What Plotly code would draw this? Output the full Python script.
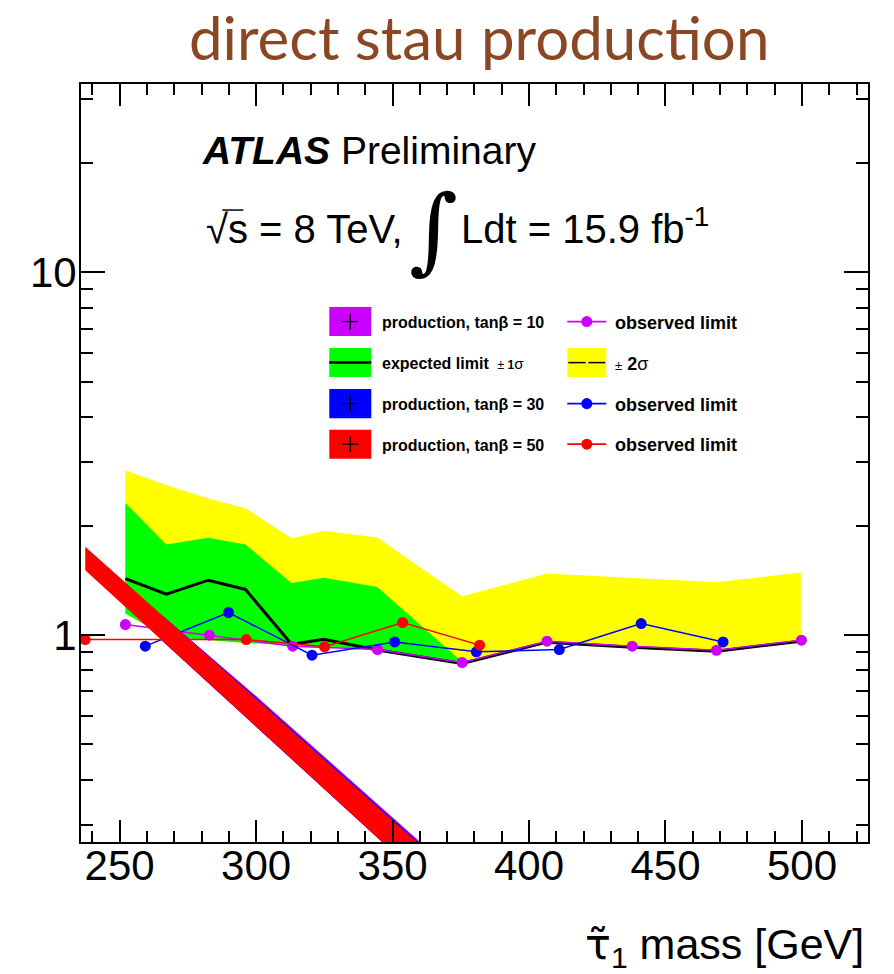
import plotly.graph_objects as go

# ---------------- data ----------------
band_mass = [252.1, 267.1, 282.5, 296.1, 313.0, 324.8, 344.4, 375.5, 406.6, 437.8, 468.8, 499.6]
yellow_hi = [2.85, 2.59, 2.38, 2.24, 1.85, 1.94, 1.86, 1.28, 1.48, 1.44, 1.40, 1.49]
yellow_lo = [1.148, 0.99, 0.97, 0.952, 0.939, 0.93, 0.913, 0.838, 0.955, 0.927, 0.903, 0.962]
green_mass = [252.1, 267.1, 282.5, 296.1, 313.0, 324.8, 344.4, 375.5]
green_hi = [2.316, 1.778, 1.855, 1.778, 1.393, 1.439, 1.359, 0.845]
green_lo = [1.148, 0.99, 0.97, 0.952, 0.939, 0.93, 0.913, 0.838]
expected = [1.433, 1.297, 1.418, 1.337, 0.944, 0.975, 0.910, 0.836, 0.957, 0.927, 0.903, 0.963]

obs10_mass = [252.1, 282.9, 313.4, 344.5, 375.5, 406.6, 437.8, 468.7, 499.8]
obs10 = [1.070, 1.000, 0.933, 0.913, 0.841, 0.963, 0.933, 0.909, 0.969]
obs30_mass = [259.4, 289.9, 320.5, 350.8, 380.7, 411.1, 441.1, 471.1]
obs30 = [0.933, 1.155, 0.881, 0.958, 0.900, 0.913, 1.077, 0.958]
obs50_mass = [237.4, 296.4, 325.1, 353.7, 381.9]
obs50 = [0.973, 0.973, 0.929, 1.084, 0.939]

# production cross-section bands (upper edge / lower edge)
tb50_hi_mass = [237.4, 300.0, 359.0, 385.0]
tb50_hi = [1.752, 0.668, 0.269, 0.180]
tb50_lo_mass = [237.4, 290.0, 346.2, 375.0]
tb50_lo = [1.511, 0.656, 0.269, 0.1706]
tb30_hi_mass = [265.0, 300.0, 359.0, 385.0]
tb30_hi = [1.145, 0.674, 0.2715, 0.1815]
tb30_lo_mass = [265.0, 290.0, 346.2, 375.0]
tb30_lo = [0.975, 0.656, 0.269, 0.1706]
tb10_hi_mass = [265.0, 300.0, 359.0, 385.0]
tb10_hi = [1.145, 0.680, 0.274, 0.183]
tb10_lo_mass = [265.0, 290.0, 346.2, 375.0]
tb10_lo = [0.975, 0.656, 0.269, 0.1706]

x_ticks = [250, 300, 350, 400, 450, 500]
y_ticks = [1, 10]
y_minor = [0.3, 0.4, 0.5, 0.6, 0.7, 0.8, 0.9, 2, 3, 4, 5, 6, 7, 8, 9, 20, 30]

legend_col1 = ["production, tan\u03b2 = 10", "expected limit", "production, tan\u03b2 = 30", "production, tan\u03b2 = 50"]
legend_col2 = ["observed limit", "\u00b1 2\u03c3", "observed limit", "observed limit"]

MAG = "rgb(204,0,255)"
BLU = "rgb(0,0,255)"
RED = "rgb(255,0,0)"
GRN = "rgb(0,255,0)"
YEL = "rgb(255,255,0)"
TITLE_C = "rgb(139,70,36)"

# ---------------- geometry helpers ----------------
L, R, T, B = 80.7, 867.7, 84.0, 841.7
W, H = 894, 974


def px(x):
    return (x - L) / (R - L)


def py(y):
    return (B - y) / (B - T)


fig = go.Figure()


def band(xs_hi, ys_hi, xs_lo, ys_lo, color):
    fig.add_trace(go.Scatter(x=list(xs_hi) + list(xs_lo)[::-1],
                             y=list(ys_hi) + list(ys_lo)[::-1],
                             fill="toself", fillcolor=color, mode="lines",
                             line=dict(width=0, color=color), hoverinfo="skip",
                             showlegend=False))


band(band_mass, yellow_hi, band_mass, yellow_lo, YEL)
band(green_mass, green_hi, green_mass, green_lo, GRN)
fig.add_trace(go.Scatter(x=band_mass, y=expected, mode="lines",
                         line=dict(color="black", width=3), showlegend=False))

for xs, ys, c in [(obs10_mass, obs10, MAG), (obs30_mass, obs30, BLU), (obs50_mass, obs50, RED)]:
    fig.add_trace(go.Scatter(x=xs, y=ys, mode="lines+markers",
                             line=dict(color=c, width=1.5),
                             marker=dict(color=c, size=11), cliponaxis=False,
                             showlegend=False))

band(tb10_hi_mass, tb10_hi, tb10_lo_mass, tb10_lo, MAG)
band(tb30_hi_mass, tb30_hi, tb30_lo_mass, tb30_lo, BLU)
band(tb50_hi_mass, tb50_hi, tb50_lo_mass, tb50_lo, RED)

# ---------------- legend (drawn by hand) ----------------
shapes = []
annos = []
rows = [321.5, 362.5, 403.5, 444.0]
bx0, bx1, bh = 329, 371, 14.5
cx0, cx1 = 567, 606
box_colors = [MAG, GRN, BLU, RED]
for i, (yc, col) in enumerate(zip(rows, box_colors)):
    shapes.append(dict(type="rect", xref="paper", yref="paper", x0=px(bx0), x1=px(bx1),
                       y0=py(yc + bh), y1=py(yc - bh), fillcolor=col, line=dict(width=0)))
    if i == 1:
        shapes.append(dict(type="line", xref="paper", yref="paper", x0=px(bx0), x1=px(bx1),
                           y0=py(yc), y1=py(yc), line=dict(color="black", width=2.5)))
    else:
        mx = (bx0 + bx1) / 2
        shapes.append(dict(type="line", xref="paper", yref="paper", x0=px(mx - 8), x1=px(mx + 8),
                           y0=py(yc), y1=py(yc), line=dict(color="black", width=1.3)))
        shapes.append(dict(type="line", xref="paper", yref="paper", x0=px(mx), x1=px(mx),
                           y0=py(yc - 8), y1=py(yc + 8), line=dict(color="black", width=1.3)))

for i, (yc, col) in enumerate(zip(rows, [MAG, None, BLU, RED])):
    if col is None:
        shapes.append(dict(type="rect", xref="paper", yref="paper", x0=px(cx0), x1=px(cx1),
                           y0=py(yc + bh), y1=py(yc - bh), fillcolor=YEL, line=dict(width=0)))
        shapes.append(dict(type="line", xref="paper", yref="paper", x0=px(cx0 + 1), x1=px(585.5),
                           y0=py(yc), y1=py(yc), line=dict(color="black", width=1.5)))
        shapes.append(dict(type="line", xref="paper", yref="paper", x0=px(588), x1=px(cx1 - 1),
                           y0=py(yc), y1=py(yc), line=dict(color="black", width=1.5)))
    else:
        shapes.append(dict(type="line", xref="paper", yref="paper", x0=px(cx0), x1=px(cx1),
                           y0=py(yc), y1=py(yc), line=dict(color=col, width=1.8)))
        mx = (cx0 + cx1) / 2
        shapes.append(dict(type="circle", xref="paper", yref="paper", x0=px(mx - 5.5), x1=px(mx + 5.5),
                           y0=py(yc + 5.5), y1=py(yc - 5.5), fillcolor=col, line=dict(width=0)))

LF = "Liberation Sans, Arial, Helvetica, sans-serif"
for i, yc in enumerate(rows):
    if i == 1:
        txt = "<b>" + legend_col1[i] + "</b>  <span style='font-size:12px'>\u00b1 <b>1</b></span><span style='font-size:15px'>\u03c3</span>"
    else:
        txt = "<b>" + legend_col1[i] + "</b>"
    annos.append(dict(text=txt, xref="paper", yref="paper", x=px(380), y=py(yc + 1),
                      xanchor="left", yanchor="middle", showarrow=False,
                      font=dict(family=LF, size=16, color="black")))
for i, yc in enumerate(rows):
    if i == 1:
        txt = "<span style='font-size:13px'>\u00b1</span> <b>2</b>\u03c3"
    else:
        txt = "<b>" + legend_col2[i] + "</b>"
    annos.append(dict(text=txt, xref="paper", yref="paper", x=px(613), y=py(yc + 1),
                      xanchor="left", yanchor="middle", showarrow=False,
                      font=dict(family=LF, size=18, color="black")))

# ---------------- header texts ----------------
annos.append(dict(text="direct stau produc<span style='color:rgb(139,70,37)'>t</span>ion",
                  xref="paper", yref="paper",
                  x=px(479), y=py(37), xanchor="center", yanchor="middle", showarrow=False,
                  font=dict(family="Lato, sans-serif", size=60, color=TITLE_C)))
annos.append(dict(text="<b><i>ATLAS</i></b> Preliminary", xref="paper", yref="paper",
                  x=px(200), y=py(150), xanchor="left", yanchor="middle", showarrow=False,
                  font=dict(family=LF, size=39, color="black")))
annos.append(dict(text="\u221as = 8 TeV,", xref="paper", yref="paper",
                  x=px(204), y=py(229), xanchor="left", yanchor="middle", showarrow=False,
                  font=dict(family=LF, size=40, color="black")))
shapes.append(dict(type="line", xref="paper", yref="paper", x0=px(222), x1=px(243),
                   y0=py(210), y1=py(210), line=dict(color="black", width=1.5)))
annos.append(dict(text="\u222b", xref="paper", yref="paper",
                  x=px(433), y=py(229), xanchor="center", yanchor="middle", showarrow=False,
                  font=dict(family="DejaVu Serif, serif", size=94, color="black")))
annos.append(dict(text="Ldt = 15.9 fb<sup>-1</sup>", xref="paper", yref="paper",
                  x=px(459), y=py(226), xanchor="left", yanchor="middle", showarrow=False,
                  font=dict(family=LF, size=40, color="black")))
annos.append(dict(text="<span style='font-family:DejaVu Sans'>\u03c4\u0303</span><sub>1</sub> mass [GeV]",
                  xref="paper", yref="paper",
                  x=px(866), y=py(946), xanchor="right", yanchor="middle", showarrow=False,
                  font=dict(family=LF, size=43, color="black")))

axis_common = dict(showline=True, linecolor="black", linewidth=2, mirror="allticks",
                   ticks="inside", tickcolor="black", tickwidth=1.5, showgrid=False,
                   zeroline=False, tickfont=dict(family=LF, size=42, color="black"))

fig.update_layout(
    width=W, height=H, margin=dict(l=L, r=W - R, t=T, b=H - B, pad=0),
    paper_bgcolor="white", plot_bgcolor="white", showlegend=False,
    xaxis=dict(range=[235.85, 524.2], tickvals=x_ticks, ticklen=22,
               minor=dict(dtick=10, tick0=0, ticks="inside", ticklen=11, tickcolor="black", tickwidth=1.5),
               ticklabelstandoff=-14, **axis_common),
    yaxis=dict(type="log", range=[-0.5699, 1.5192], tickvals=y_ticks, ticktext=["1", "10"], ticklen=24,
               minor=dict(tickvals=y_minor, ticks="inside", ticklen=12, tickcolor="black", tickwidth=1.5),
               ticklabelstandoff=-6, **axis_common),
    shapes=shapes, annotations=annos,
)

fig.write_html("out.html")
